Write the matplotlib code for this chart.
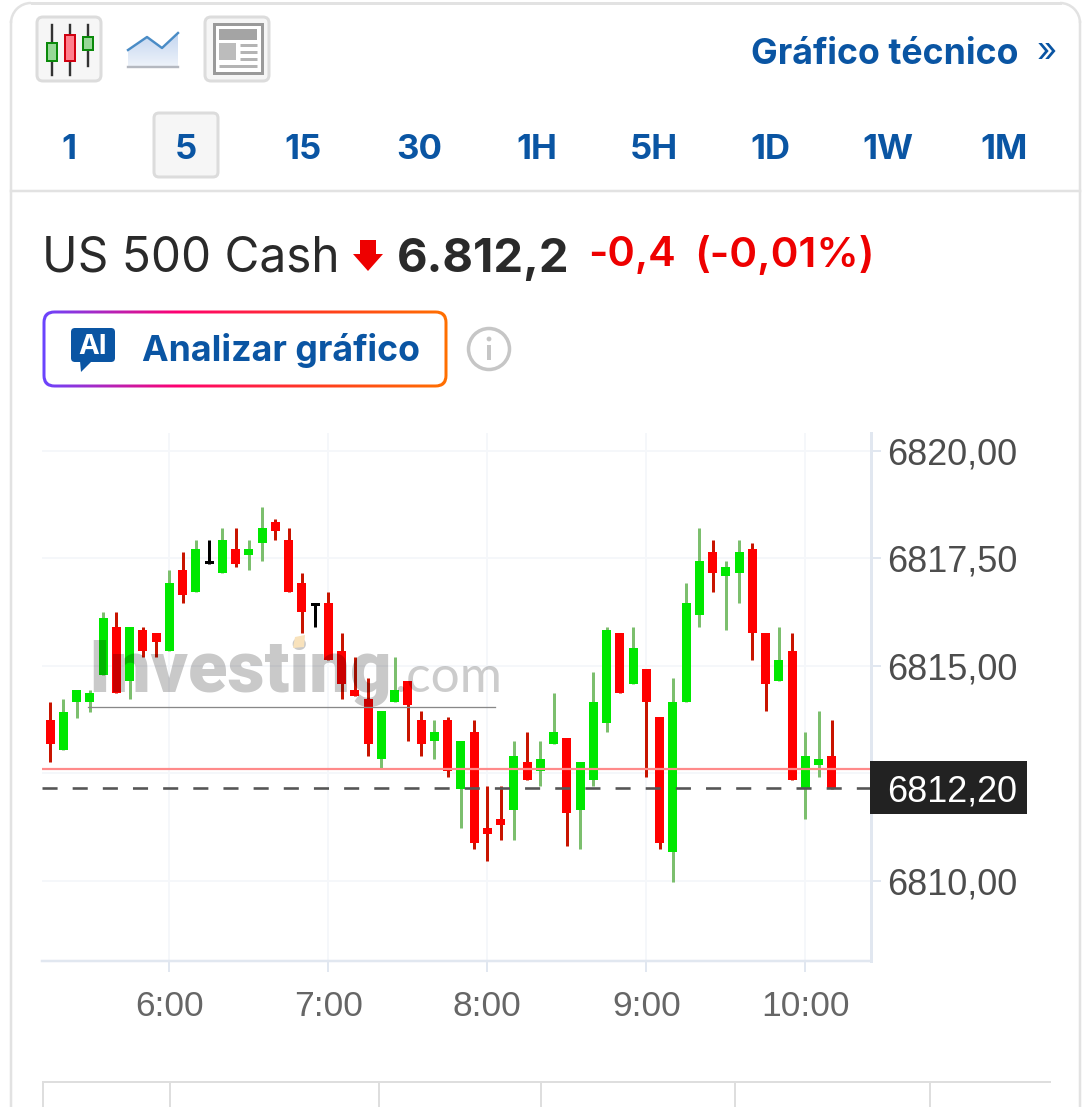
import numpy as np
import matplotlib
matplotlib.use("Agg")
import matplotlib.pyplot as plt
from matplotlib.patches import FancyBboxPatch, Rectangle, Circle, Polygon

# ---------- data (price offset above 6810) ----------
base = 6810
highs = [4.14,4.21,4.42,4.42,6.24,6.24,5.89,5.89,5.75,7.21,7.63,7.91,7.91,8.19,8.19,7.91,8.68,8.40,8.19,7.14,6.45,
         6.72,5.75,5.19,4.70,3.94,5.19,4.63,3.94,3.73,3.80,3.25,3.73,2.20,2.20,3.25,3.45,3.25,4.36,3.31,2.76,4.85,5.89,
         5.76,5.89,4.92,3.80,4.70,6.93,8.19,7.91,7.42,7.91,7.84,5.76,5.89,5.75,3.45,3.94,3.73]
lows  = [2.75,3.03,3.79,3.93,4.77,4.35,4.21,5.19,5.19,5.33,6.45,6.72,7.35,7.14,7.28,7.21,7.42,7.91,6.72,5.75,5.89,
         5.13,4.22,4.29,2.90,2.62,4.15,3.25,2.90,2.83,2.41,1.22,0.73,0.45,0.94,0.94,2.34,2.20,3.17,0.80,0.73,2.20,3.45,
         4.36,4.57,2.41,0.73,-0.03,4.15,5.89,6.72,5.83,6.45,5.12,3.94,4.64,2.34,1.43,2.41,2.13]
tops  = [3.73,3.93,4.42,4.35,6.10,5.89,5.89,5.82,5.75,6.93,7.21,7.70,7.42,7.91,7.70,7.70,8.19,8.33,7.91,6.93,6.45,
         6.45,5.33,4.43,4.22,3.94,4.43,4.63,3.73,3.45,3.73,3.25,3.45,1.22,1.43,2.90,2.76,2.83,3.45,3.31,2.76,4.15,5.83,
         5.76,5.41,4.92,3.80,4.15,6.45,7.42,7.63,7.28,7.63,7.70,5.76,5.13,5.33,2.90,2.83,2.90]
bots  = [3.17,3.03,4.14,4.14,4.77,4.35,4.63,5.33,5.54,5.33,6.65,6.72,7.35,7.14,7.35,7.56,7.84,8.12,6.72,6.24,6.38,
         5.13,4.57,4.29,3.17,2.83,4.15,4.08,3.17,3.25,2.55,2.13,0.87,1.08,1.29,1.64,2.34,2.55,3.17,1.57,1.64,2.34,3.66,
         4.36,4.57,4.15,0.87,0.66,4.15,6.17,7.14,7.07,7.14,5.76,4.57,4.64,2.34,2.13,2.69,2.13]
kinds = list("rgggg" "rgrrg" "rgkgr" "ggrrr" "k"
             "rrrrg" "grrgr" "grrrg" "rggrg" "ggr"
             "gr" "rgg" "grgg" "rrgrg" "gr")
start_minute = 315
step_minutes = 5
hour_ticks = [360, 420, 480, 540, 600]
hour_labels = ["6:00", "7:00", "8:00", "9:00", "10:00"]
price_ticks = [6810, 6812.5, 6815, 6817.5, 6820]
price_labels = ["6810,00", "6812,50", "6815,00", "6817,50", "6820,00"]
last_price = 6812.16
prev_close = 6812.59
last_label = "6812,20"
timeframes = ["1", "5", "15", "30", "1H", "5H", "1D", "1W", "1M"]

W, H = 1082, 1107
PX = 0.72
BLUE = "#0a55a3"
fig = plt.figure(figsize=(W/100, H/100), dpi=100, facecolor="white")

# ---------- chart ----------
L, R, T, B = 42, 871, 433, 961
ax = fig.add_axes([L/W, 1-B/H, (R-L)/W, (B-T)/H], zorder=1)
ax.set_xlim(311.96, 624.8)
ax.set_ylim(6808.128, 6820.407)
ax.patch.set_alpha(0)
for s in ["top", "left"]:
    ax.spines[s].set_visible(False)
ax.spines["right"].set_color("#e1e7f0"); ax.spines["right"].set_linewidth(3*PX)
ax.spines["bottom"].set_color("#e1e7f0"); ax.spines["bottom"].set_linewidth(2.5*PX)
ax.yaxis.tick_right()
ax.set_yticks(price_ticks, price_labels)
ax.set_xticks(hour_ticks, hour_labels)
ax.tick_params(axis="y", length=7, width=2*PX, color="#e1e7f0", pad=4.5, labelsize=25.9,
               labelcolor="#4d4d4d", labelfontfamily="Liberation Sans")
ax.tick_params(axis="x", length=8, width=2*PX, color="#e1e7f0", pad=13, labelsize=25.5,
               labelcolor="#666666", labelfontfamily="Liberation Sans")
ax.grid(True, color="#f5f7fa", lw=2*PX, zorder=0)
ax.set_axisbelow(True)

x = start_minute + step_minutes*np.arange(60)
body_w = 9/13.25*5
wick_col = {"g": "#7cbf6e", "r": "#c81400", "k": "#000000"}
body_col = {"g": "#00e800", "r": "#ff0000", "k": "#000000"}
for i, k in enumerate(kinds):
    ax.vlines(x[i], base+lows[i], base+highs[i], color=wick_col[k], lw=3*PX, zorder=3)
    ax.bar(x[i], tops[i]-bots[i], bottom=base+bots[i], width=body_w, color=body_col[k], lw=0, zorder=4)
ax.axhline(prev_close, color="#ff8a8a", lw=2.2*PX, zorder=5)
ax.axhline(last_price, color="#555555", lw=2.6*PX, dashes=(5.8, 5.8), zorder=5)

# ---------- overlay in pixel coordinates ----------
o = fig.add_axes([0, 0, 1, 1], zorder=2)
o.set_xlim(0, W); o.set_ylim(H, 0); o.axis("off"); o.patch.set_alpha(0)

def rbox(x0, y0, x1, y1, r, fc, ec, lw, z=2):
    p = FancyBboxPatch((x0+r, y0+r), x1-x0-2*r, y1-y0-2*r, boxstyle=f"round,pad={r}",
                       fc=fc, ec=ec, lw=lw*PX, zorder=z)
    o.add_patch(p)
    return p

# card frame
o.plot([11, 11], [22, H], color="#e2e2e2", lw=2.5*PX)
o.plot([1080, 1080], [22, H], color="#e2e2e2", lw=2.5*PX)
o.plot([32, 1060], [3, 3], color="#e2e2e2", lw=3*PX)
o.add_patch(matplotlib.patches.Arc((31, 23), 40, 40, theta1=180, theta2=270, color="#e2e2e2", lw=2.5*PX))
o.add_patch(matplotlib.patches.Arc((1060, 23), 40, 40, theta1=270, theta2=360, color="#e2e2e2", lw=2.5*PX))
o.plot([11, 1080], [191, 191], color="#e2e2e2", lw=2.5*PX)

# candle icon button
rbox(37, 17, 101, 81, 6, "#f6f6f6", "#dcdcdc", 3)
for cx, wt, wb, bt, bb, fc, ec in [(52, 25, 75, 43, 61, "#98d898", "#0a8a0a"),
                                   (70, 25, 75, 35, 61, "#ff808e", "#d00010"),
                                   (88, 25, 66, 37, 50, "#98d898", "#0a8a0a")]:
    o.plot([cx, cx], [wt, wb], color="#333333", lw=2.4*PX, zorder=3)
    o.add_patch(Rectangle((cx-5, bt), 10, bb-bt, fc=fc, ec=ec, lw=2*PX, zorder=4))
# area icon
area = Polygon([(128, 50), (147, 37), (162, 48), (178, 33), (178, 67), (128, 67)], fc="none", ec="none")
o.add_patch(area)
cm_area = matplotlib.colors.LinearSegmentedColormap.from_list("a", ["#c4d6f0", "#eef3fa"])
im_a = o.imshow(np.linspace(0, 1, 64)[:, None], extent=(128, 178, 67, 33), cmap=cm_area, aspect="auto", zorder=2)
im_a.set_clip_path(area)
o.plot([128, 147, 162, 178], [50, 37, 48, 33], color="#4a8cc6", lw=2.4*PX)
o.plot([128, 178], [67, 67], color="#b4b8c0", lw=2.4*PX)
# news button
rbox(205, 17, 269, 81, 6, "#f6f6f6", "#dcdcdc", 3)
o.add_patch(Rectangle((214, 24), 48, 49, fc="white", ec="#9a9a9a", lw=3*PX, zorder=3))
o.add_patch(Rectangle((219, 29), 38, 11, fc="#a4a4a4", zorder=4))
o.add_patch(Rectangle((219, 43), 17, 17, fc="#bcbcbc", zorder=4))
for yy in (44.5, 51.5, 58.5, 65.5):
    o.plot([240 if yy < 60 else 219, 257], [yy, yy], color="#b4b4b4", lw=3*PX, zorder=4, solid_capstyle="butt")

INTER = "Inter"
o.text(751, 54, "Gráfico técnico", family=INTER, weight="bold", fontsize=25.7, color=BLUE, va="center", ha="left")
o.text(1047, 52, "»", family=INTER, fontsize=25, color=BLUE, va="center", ha="center")

# timeframe row
rbox(154, 113, 218, 177, 5, "#f6f6f6", "#dcdcdc", 3)
for i, t in enumerate(timeframes):
    o.text(68.5+117*i, 150, t, family=INTER, weight="bold", fontsize=25, color=BLUE, va="center", ha="center")

# quote line
o.text(42, 258, "US 500 Cash", family=INTER, fontsize=34.4, color="#2a2a2a", va="center", ha="left")
o.add_patch(Polygon([(360, 240), (376, 240), (376, 254), (383, 254), (368, 271), (353, 254), (360, 254)],
                    fc="#ee0000", ec="none"))
o.text(397, 260, "6.812,2", family=INTER, weight="bold", fontsize=34, color="#2a2a2a", va="center", ha="left")
o.text(588, 255, "-0,4", family=INTER, weight="semibold", fontsize=30, color="#ee0000", va="center", ha="left")
o.text(694.5, 255, "(-0,01%)", family=INTER, weight="semibold", fontsize=30.4, color="#ee0000", va="center", ha="left")

# gradient button
clip = rbox(42.5, 310.5, 447.5, 387.5, 12, "none", "none", 0, z=2)
grad = np.linspace(0, 1, 256)[None, :]
cmap = matplotlib.colors.LinearSegmentedColormap.from_list("g", ["#6a45ff", "#ff0070", "#ff3a20", "#ff7000"])
im = o.imshow(grad, extent=(42, 448, 388, 310), cmap=cmap, aspect="auto", zorder=2)
im.set_clip_path(clip)
o.set_xlim(0, W); o.set_ylim(H, 0)
rbox(45.5, 313.5, 444.5, 384.5, 9, "white", "none", 0, z=3)
o.add_patch(FancyBboxPatch((75, 332), 36, 26, boxstyle="round,pad=4", fc=BLUE, ec="none", zorder=4))
o.add_patch(Polygon([(80, 361), (92, 361), (81, 372)], fc=BLUE, ec="none", zorder=4))
o.text(93, 347, "AI", family=INTER, weight="bold", fontsize=20, color="white", va="center", ha="center", zorder=5)
o.text(142, 351, "Analizar gráfico", family=INTER, weight="bold", fontsize=25.7, color=BLUE, va="center", ha="left", zorder=5)
o.add_patch(Circle((489, 349), 20.5, fc="white", ec="#c6c6c6", lw=3.5*PX))
o.plot([489, 489], [345, 360], color="#c6c6c6", lw=4*PX, solid_capstyle="butt")
o.add_patch(Circle((489, 339), 2.4, fc="#c6c6c6", ec="none"))

# watermark
o.text(88, 692, "Investing", family="Roboto", weight="black", fontsize=52, color="black", alpha=0.21,
       va="baseline", ha="left", zorder=6)
o.text(394, 692, ".com", family="Lato", weight="regular", fontsize=37, color="black", alpha=0.2,
       va="baseline", ha="left", zorder=6)
o.add_patch(Polygon([(295, 637), (305, 635), (304, 647), (293, 648)], fc="#f8e2bc", ec="none", zorder=6))
o.plot([88, 495], [706.5, 706.5], color="#888888", lw=1.3*PX, zorder=6)

# last price tag
o.add_patch(Rectangle((870, 761), 157, 53, fc="#222222", ec="none", zorder=7))
o.text(952, 792, last_label, family="Liberation Sans", fontsize=25.9, color="white", va="center", ha="center", zorder=8)

# table stub at the bottom
o.plot([43, 1050], [1082, 1082], color="#dedede", lw=2*PX)
for xx in [43, 170, 379, 541, 735, 930]:
    o.plot([xx, xx], [1082, H], color="#dedede", lw=2*PX)

fig.savefig("out.png", dpi=100)
